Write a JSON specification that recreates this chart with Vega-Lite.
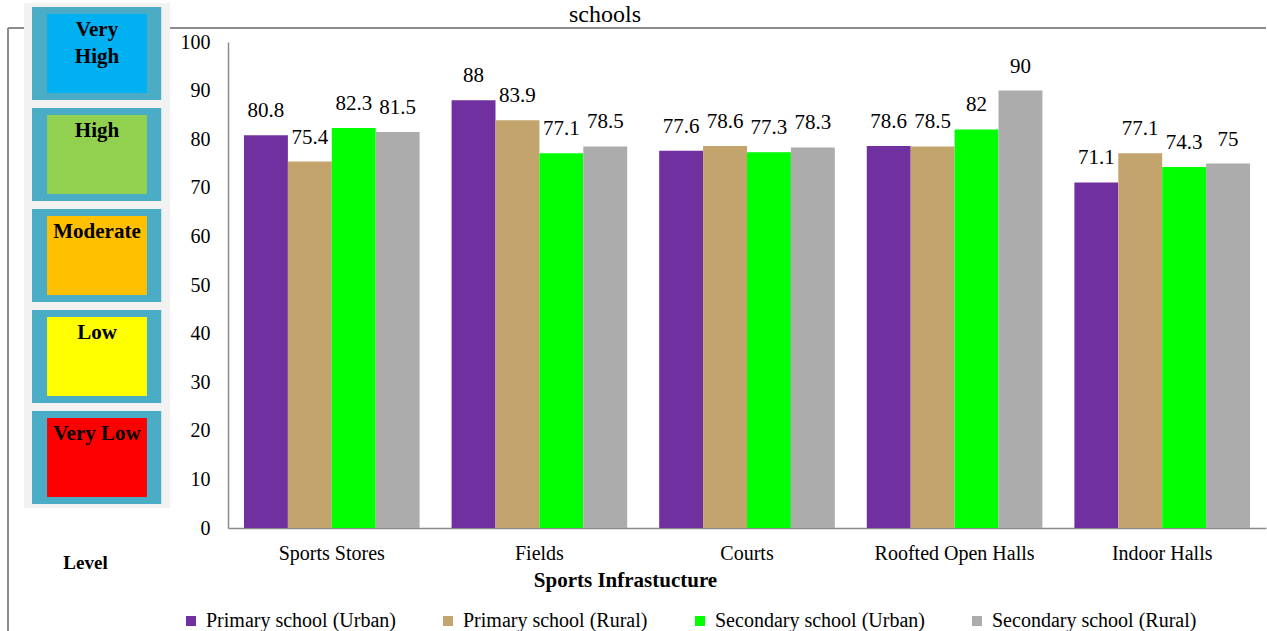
{
  "$schema": "https://vega.github.io/schema/vega-lite/v6.json",
  "background": "white",
  "padding": {"left": 7, "top": 3, "right": 0, "bottom": 0},
  "bounds": "flush",
  "config": {
    "font": "Liberation Serif",
    "view": {"stroke": null},
    "concat": {"spacing": 58}
  },
  "resolve": {"scale": {"color": "independent"}, "legend": {"color": "independent"}},
  "datasets": {
    "levels": [
      {"level": "Very High", "label": "Very\nHigh", "color": "Very High"},
      {"level": "High", "label": "High", "color": "High"},
      {"level": "Moderate", "label": "Moderate", "color": "Moderate"},
      {"level": "Low", "label": "Low", "color": "Low"},
      {"level": "Very Low", "label": "Very Low", "color": "Very Low"}
    ],
    "bars": [
      {"infra": "Sports Stores", "school": "Primary school (Urban)", "value": 80.8},
      {"infra": "Sports Stores", "school": "Primary school (Rural)", "value": 75.4},
      {"infra": "Sports Stores", "school": "Secondary school (Urban)", "value": 82.3},
      {"infra": "Sports Stores", "school": "Secondary school (Rural)", "value": 81.5},
      {"infra": "Fields", "school": "Primary school (Urban)", "value": 88},
      {"infra": "Fields", "school": "Primary school (Rural)", "value": 83.9},
      {"infra": "Fields", "school": "Secondary school (Urban)", "value": 77.1},
      {"infra": "Fields", "school": "Secondary school (Rural)", "value": 78.5},
      {"infra": "Courts", "school": "Primary school (Urban)", "value": 77.6},
      {"infra": "Courts", "school": "Primary school (Rural)", "value": 78.6},
      {"infra": "Courts", "school": "Secondary school (Urban)", "value": 77.3},
      {"infra": "Courts", "school": "Secondary school (Rural)", "value": 78.3},
      {"infra": "Roofted Open Halls", "school": "Primary school (Urban)", "value": 78.6},
      {"infra": "Roofted Open Halls", "school": "Primary school (Rural)", "value": 78.5},
      {"infra": "Roofted Open Halls", "school": "Secondary school (Urban)", "value": 82},
      {"infra": "Roofted Open Halls", "school": "Secondary school (Rural)", "value": 90},
      {"infra": "Indoor Halls", "school": "Primary school (Urban)", "value": 71.1},
      {"infra": "Indoor Halls", "school": "Primary school (Rural)", "value": 77.1},
      {"infra": "Indoor Halls", "school": "Secondary school (Urban)", "value": 74.3},
      {"infra": "Indoor Halls", "school": "Secondary school (Rural)", "value": 75}
    ]
  },
  "hconcat": [
    {
      "width": 146,
      "height": 486,
      "data": {"name": "levels"},
      "resolve": {"scale": {"y": "independent"}},
      "layer": [
        {
          "mark": {"type": "rule", "color": "#8c8c8c", "strokeWidth": 1.5, "clip": false},
          "encoding": {
            "x": {"datum": -0.11, "type": "quantitative", "scale": {"domain": [0, 1]}},
            "y": {"datum": 0, "type": "quantitative", "scale": {"domain": [0, 1], "range": [-14, 603]}, "axis": null},
            "y2": {"datum": 1}
          }
        },
        {
          "mark": {"type": "rule", "color": "#8c8c8c", "strokeWidth": 1.5, "clip": false},
          "encoding": {
            "x": {"datum": -0.11, "type": "quantitative"},
            "x2": {"datum": 1.4},
            "y": {"datum": 0, "type": "quantitative", "scale": {"domain": [0, 1], "range": [-14, 603]}, "axis": null}
          }
        },
        {
          "encoding": {
            "y": {
              "field": "level",
              "type": "nominal",
              "sort": ["Very High", "High", "Moderate", "Low", "Very Low"],
              "scale": {"paddingInner": 0, "paddingOuter": 0, "range": [-39, 466]},
              "axis": null
            }
          },
          "layer": [
            {
              "mark": {"type": "bar", "fill": "#f2f2f2", "height": {"band": 1}, "clip": false},
              "encoding": {
                "x": {
                  "datum": 0,
                  "type": "quantitative",
                  "axis": {
                    "title": "Level",
                    "labels": false,
                    "ticks": false,
                    "domain": false,
                    "grid": false,
                    "titleFont": "Liberation Serif",
                    "titleFontSize": 19,
                    "titleFontWeight": "bold",
                    "titleColor": "black",
                    "titlePadding": 25,
                    "titleX": 61
                  }
                },
                "x2": {"datum": 1}
              }
            },
            {
              "mark": {"type": "bar", "fill": "#4bacc6", "height": {"band": 0.92}, "clip": false},
              "encoding": {
                "x": {"datum": 0.055, "type": "quantitative"},
                "x2": {"datum": 0.94}
              }
            },
            {
              "mark": {"type": "bar", "height": {"band": 0.78}, "clip": false},
              "encoding": {
                "x": {"datum": 0.158, "type": "quantitative"},
                "x2": {"datum": 0.842},
                "color": {
                  "field": "color",
                  "type": "nominal",
                  "scale": {
                    "domain": ["Very High", "High", "Moderate", "Low", "Very Low"],
                    "range": ["#00b0f0", "#92d050", "#ffc000", "#ffff00", "#ff0000"]
                  },
                  "legend": null
                }
              }
            },
            {
              "mark": {
                "type": "text",
                "baseline": "top",
                "align": "center",
                "dy": 16,
                "fontSize": 21,
                "fontWeight": "bold",
                "lineBreak": "\n",
                "lineHeight": 27,
                "color": "black"
              },
              "encoding": {
                "y": {"field": "level", "type": "nominal", "sort": ["Very High", "High", "Moderate", "Low", "Very Low"], "bandPosition": 0},
                "x": {"datum": 0.5, "type": "quantitative"},
                "text": {"field": "label"}
              }
            }
          ]
        }
      ]
    },
    {
      "width": 1038,
      "height": 486,
      "data": {"name": "bars"},
      "title": {
        "text": "schools",
        "font": "Liberation Serif",
        "fontSize": 24,
        "fontWeight": "normal",
        "color": "black",
        "anchor": "middle",
        "dx": -142,
        "offset": 0
      },
      "layer": [
        {
          "mark": {"type": "rule", "color": "#8c8c8c", "strokeWidth": 1.5, "clip": false},
          "encoding": {"y": {"datum": 102.9, "type": "quantitative", "scale": {"domain": [0, 100]}}}
        },
        {
          "encoding": {
            "x": {
              "field": "infra",
              "type": "nominal",
              "sort": ["Sports Stores", "Fields", "Courts", "Roofted Open Halls", "Indoor Halls"],
              "scale": {"paddingInner": 0.154, "paddingOuter": 0.077},
              "axis": {
                "title": "Sports Infrastucture",
                "titleFont": "Liberation Serif",
                "titleFontSize": 21,
                "titleFontWeight": "bold",
                "titleColor": "black",
                "titlePadding": 6,
                "titleX": 397,
                "labelFont": "Liberation Serif",
                "labelFontSize": 20,
                "labelColor": "black",
                "labelAngle": 0,
                "labelPadding": 15,
                "ticks": false,
                "domainColor": "#8c8c8c",
                "domainWidth": 1.5
              }
            },
            "xOffset": {
              "field": "school",
              "type": "nominal",
              "sort": ["Primary school (Urban)", "Primary school (Rural)", "Secondary school (Urban)", "Secondary school (Rural)"]
            },
            "y": {
              "field": "value",
              "type": "quantitative",
              "scale": {"domain": [0, 100]},
              "axis": {
                "title": null,
                "tickCount": 10,
                "grid": false,
                "ticks": false,
                "labelFont": "Liberation Serif",
                "labelFontSize": 20,
                "labelColor": "black",
                "labelPadding": 18,
                "domainColor": "#8c8c8c",
                "domainWidth": 1.5
              }
            }
          },
          "layer": [
            {
              "mark": {"type": "bar"},
              "encoding": {
                "color": {
                  "field": "school",
                  "type": "nominal",
                  "sort": ["Primary school (Urban)", "Primary school (Rural)", "Secondary school (Urban)", "Secondary school (Rural)"],
                  "scale": {"range": ["#7030a0", "#c2a46c", "#00ff00", "#acacac"]},
                  "legend": {
                    "title": null,
                    "orient": "none",
                    "legendX": -47,
                    "legendY": 569,
                    "padding": 0,
                    "direction": "horizontal",
                    "symbolType": "square",
                    "symbolSize": 100,
                    "symbolStrokeWidth": 0,
                    "labelFont": "Liberation Serif",
                    "labelFontSize": 20,
                    "labelColor": "black",
                    "labelLimit": 400,
                    "labelOffset": 5,
                    "columnPadding": 42,
                    "symbolOffset": 0
                  }
                }
              }
            },
            {
              "mark": {"type": "text", "baseline": "middle", "dy": -24, "fontSize": 21, "color": "black"},
              "encoding": {"text": {"field": "value", "type": "quantitative"}}
            }
          ]
        }
      ]
    }
  ]
}
